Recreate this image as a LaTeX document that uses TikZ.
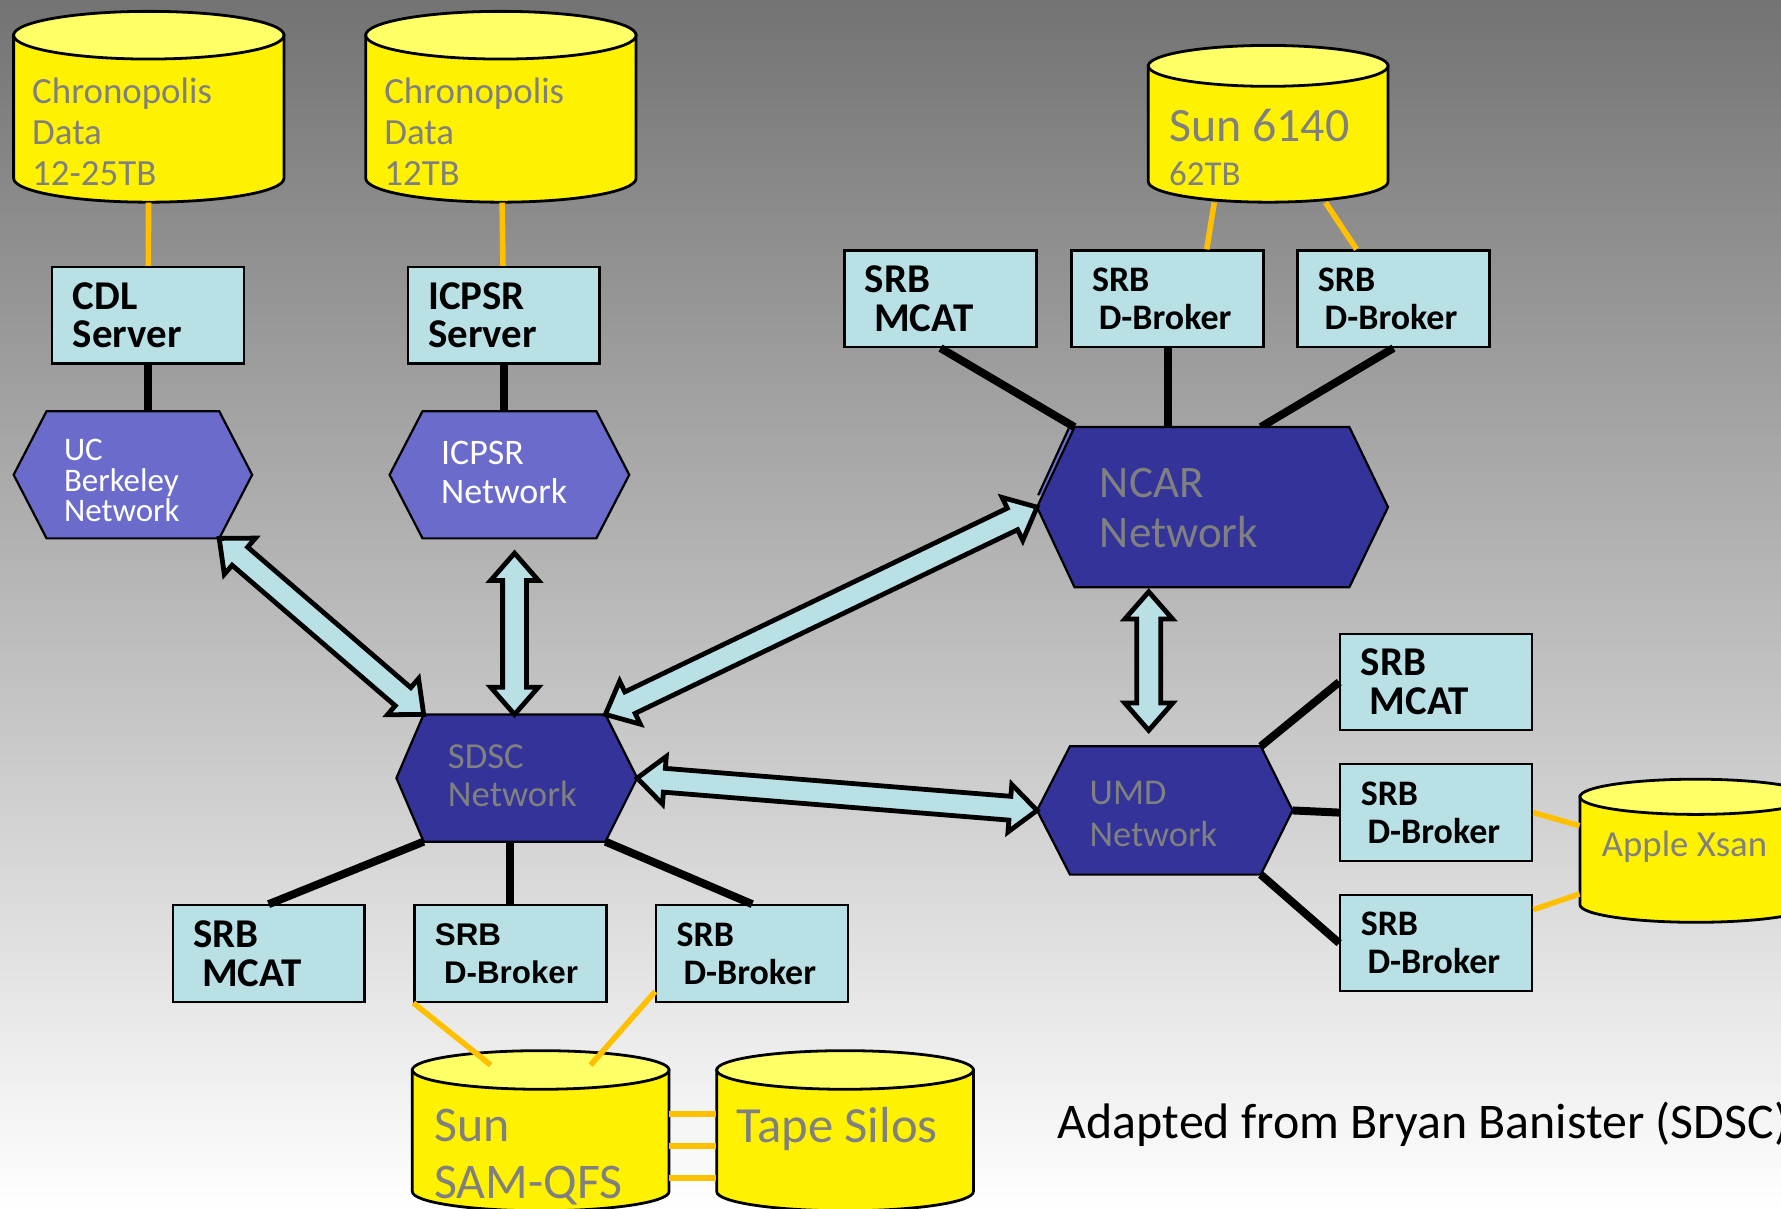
\documentclass[tikz,border=0pt]{standalone}
\usepackage{fontspec}
\setmainfont{Carlito}
\newfontfamily\arialfont{Liberation Sans}
\usetikzlibrary{positioning,calc}

\definecolor{boxblue}{RGB}{185,224,228}
\definecolor{netlight}{RGB}{107,107,204}
\definecolor{netdark}{RGB}{51,51,153}
\definecolor{feedorange}{RGB}{255,192,0}
\definecolor{disktop}{RGB}{255,255,102}
\definecolor{labelgray}{RGB}{128,128,128}
\definecolor{bgtop}{RGB}{115,115,115}
\definecolor{bgmid}{RGB}{200,200,200}

\tikzset{
  srvbox/.style={draw, line width=1.1pt, fill=boxblue, minimum width=3.38cm, minimum height=1.7cm,
    text width=2.66cm, inner xsep=0.36cm, align=left, font=\bfseries\fontsize{20.5}{19.5}\selectfont},
  brokerbox/.style={srvbox, font=\bfseries\fontsize{18}{19}\selectfont},
  diskline/.style={draw, line width=1.4pt},
  disktext/.style={anchor=west, align=left, text=labelgray, inner sep=0pt},
  netlo/.style={draw, line width=1.1pt, fill=netlight},
  nethi/.style={draw, line width=1.1pt, fill=netdark},
  nettext/.style={anchor=west, align=left, inner sep=0pt},
  link/.style={line width=4pt},
  feed/.style={feedorange, line width=2.8pt},
  pipe/.style={draw, fill=boxblue, line width=2.4pt, line join=miter},
}

% disk: name, centre x, centre y, half width, half height, end radius
\newcommand{\disk}[6]{%
  \node[inner sep=0pt, minimum width={2*#4*0.02cm}, minimum height={2*#5*0.02cm}] (#1) at (#2,#3) {};
  \draw[diskline, fill=yellow] ($(#1)+(-#4,-#5+#6)$) -- ($(#1)+(-#4,#5-#6)$)
    arc[start angle=180, end angle=360, x radius=#4*0.02cm, y radius=#6*0.02cm]
    -- ($(#1)+(#4,-#5+#6)$) -- cycle;
  \draw[diskline, fill=disktop] ($(#1)+(0,-#5+#6)$) ellipse[x radius=#4*0.02cm, y radius=#6*0.02cm];
}

% hexagon: name, style, x left point, x top left, x top right, x right point, y top, y bottom
\newcommand{\hexnet}[8]{%
  \coordinate (#1-w)  at (#3,{(#7+#8)/2});
  \coordinate (#1-nw) at (#4,#7);
  \coordinate (#1-n)  at ({(#4+#5)/2},#7);
  \coordinate (#1-ne) at (#5,#7);
  \coordinate (#1-e)  at (#6,{(#7+#8)/2});
  \coordinate (#1-se) at (#5,#8);
  \coordinate (#1-s)  at ({(#4+#5)/2},#8);
  \coordinate (#1-sw) at (#4,#8);
  \draw[#2] (#1-w) -- (#1-nw) -- (#1-ne) -- (#1-e) -- (#1-se) -- (#1-sw) -- cycle;
}

% block arrow with two heads
\def\tiplen{0.48cm}
\def\tipwid{0.42cm}
\def\shaftwid{0.21cm}
\newcommand{\dblarrow}[2]{%
  \draw[pipe] (#1)
    -- ($($(#1)!\tiplen!(#2)$)!\tipwid!90:(#2)$)
    -- ($($(#1)!\tiplen!(#2)$)!\shaftwid!90:(#2)$)
    -- ($($(#2)!\tiplen!(#1)$)!\shaftwid!-90:(#1)$)
    -- ($($(#2)!\tiplen!(#1)$)!\tipwid!-90:(#1)$)
    -- (#2)
    -- ($($(#2)!\tiplen!(#1)$)!\tipwid!90:(#1)$)
    -- ($($(#2)!\tiplen!(#1)$)!\shaftwid!90:(#1)$)
    -- ($($(#1)!\tiplen!(#2)$)!\shaftwid!-90:(#2)$)
    -- ($($(#1)!\tiplen!(#2)$)!\tipwid!-90:(#2)$)
    -- cycle;
}

\begin{document}
\begin{tikzpicture}[x=0.02cm, y=-0.02cm]
	\useasboundingbox (0,0) rectangle (1568,1064);
	\clip (0,0) rectangle (1568,1064);
	\fill[top color=bgtop, middle color=bgmid, bottom color=white] (0,0) rectangle (1568,1064);

	% storage
	\disk{chronoA}{131}{94}{119}{84}{21}
	\disk{chronoB}{441}{94}{119}{84}{21}
	\disk{sun6140}{1116.5}{109}{105.5}{69}{18}
	\disk{samqfs}{476}{995.5}{113}{70.5}{17}
	\disk{tape}{744}{995.5}{113}{70.5}{17}
	\disk{xsan}{1493}{749}{102}{63}{15.5}

	\node[disktext, font=\fontsize{18.5}{20.5}\selectfont] (chronoAtxt) at (28,116) {Chronopolis\\Data\\12-25TB};
	\node[disktext, font=\fontsize{18.5}{20.5}\selectfont] (chronoBtxt) at (338,116) {Chronopolis\\Data\\12TB};
	\node[disktext, font=\fontsize{24}{22}\selectfont] (suntxt) at (1029,130) {Sun 6140\\{\fontsize{17.5}{22}\selectfont 62TB}};
	\node[disktext, font=\fontsize{25}{28.5}\selectfont] (samtxt) at (382,1019) {Sun\\SAM-QFS};
	\node[disktext, font=\fontsize{25.4}{28}\selectfont] (tapetxt) at (648,994) {Tape Silos};
	\node[disktext, font=\fontsize{18.4}{20}\selectfont] (xsantxt) at (1410,745) {Apple Xsan};

	% servers
	\node[srvbox] (cdl) at (130.5,277.5) {CDL\\Server};
	\node[srvbox, right=2.84cm of cdl] (icpsr) {ICPSR\\Server};

	\node[srvbox] (nmcat) at (828,263) {SRB\\\hspace*{0.16cm}MCAT};
	\node[brokerbox, right=0.58cm of nmcat] (ndb1) {SRB\\\hspace*{0.12cm}D-Broker};
	\node[brokerbox, right=0.56cm of ndb1] (ndb2) {SRB\\\hspace*{0.12cm}D-Broker};

	\node[srvbox] (smcat) at (236.5,839.5) {SRB\\\hspace*{0.16cm}MCAT};
	\node[brokerbox, right=0.84cm of smcat, font=\arialfont\bfseries\fontsize{15.7}{19}\selectfont] (sdb1) {SRB\\\hspace*{0.16cm}D-Broker};
	\node[brokerbox, right=0.84cm of sdb1] (sdb2) {SRB\\\hspace*{0.12cm}D-Broker};

	\node[srvbox] (umcat) at (1264.5,600.5) {SRB\\\hspace*{0.16cm}MCAT};
	\node[brokerbox, below=0.56cm of umcat] (udb1) {SRB\\\hspace*{0.12cm}D-Broker};
	\node[brokerbox, below=0.56cm of udb1] (udb2) {SRB\\\hspace*{0.12cm}D-Broker};

	% disk feeds
	\draw[feed] (chronoA) -- (cdl);
	\draw[feed] (chronoB) -- (icpsr);
	\draw[feed] ([xshift=-0.95cm]sun6140.south) -- ([xshift=0.69cm]ndb1.north);
	\draw[feed] ([xshift=1.01cm]sun6140.south) -- ([xshift=-0.65cm]ndb2.north);
	\draw[feed] (sdb1.south west) -- ([shift={(-0.88cm,-0.26cm)}]samqfs.north);
	\draw[feed] ([yshift=0.2cm]sdb2.south west) -- ([shift={(0.88cm,-0.26cm)}]samqfs.north);
	\foreach \dy in {0.29cm,-0.27cm,-0.83cm}
		\draw[feed] ([yshift=\dy]samqfs.east) -- ([yshift=\dy]tape.west);
	\draw[feed] (udb1.east) -- ([yshift=0.44cm]xsan.west);
	\draw[feed] ([yshift=0.59cm]udb2.east) -- ([yshift=-0.76cm]xsan.west);

	% networks
	\hexnet{ucb}{netlo}{12}{41}{193}{222}{362}{474}
	\hexnet{icpsrnet}{netlo}{343}{372}{525}{554}{362}{474}
	\fill[netlight] (941,377) -- (946,376) -- (919,436) -- (914,436) -- cycle;
	\draw[line width=1.1pt] (941,377) -- (914,436);

	% links to the networks
	\draw[link] (cdl.south) -- (cdl.south |- ucb-n);
	\draw[link] (icpsr.south) -- (icpsr.south |- icpsrnet-n);
	\draw[link] (nmcat.south) -- (946,376);
	\draw[link] (ndb1.south) -- (ndb1.south |- 0,376);
	\draw[link] (ndb2.south) -- (1110,376);
	\draw[link] (smcat.north) -- (373,741);
	\draw[link] (sdb1.north) -- (sdb1.north |- 0,741);
	\draw[link] (sdb2.north) -- (533,741);
	\draw[link] (1110,657) -- (umcat.west);
	\draw[link] (1138,713.5) -- (udb1.west);
	\draw[link] (1110,770) -- (udb2.west);

	\hexnet{ncar}{nethi}{913}{946}{1188}{1222}{376}{517}
	\hexnet{sdsc}{nethi}{349}{373}{533}{561}{629}{741}
	\hexnet{umd}{nethi}{913}{942}{1110}{1138}{657}{770}

	\node[nettext, text=white, font=\fontsize{16.5}{15.4}\selectfont] (ucb) at (56,423) {UC\\Berkeley\\Network};
	\node[nettext, text=white, font=\fontsize{18}{19.3}\selectfont] (icpsrlbl) at (388,416) {ICPSR\\Network};
	\node[nettext, text=labelgray, font=\fontsize{22.6}{25}\selectfont] (ncar) at (968,447) {NCAR\\Network};
	\node[nettext, text=labelgray, font=\fontsize{18.4}{18.8}\selectfont] (sdsc) at (394,683) {SDSC\\Network};
	\node[nettext, text=labelgray, font=\fontsize{18.2}{21}\selectfont] (umd) at (959,717) {UMD\\Network};

	% traffic between the networks
	\coordinate (icpsrdown) at ($(sdsc-n |- icpsrnet-s)+(0,13)$);
	\coordinate (ncardown) at ($($(ncar-sw)!0.27!(ncar-se)$)+(0,4)$);
	\coordinate (umdup) at ($(ncardown |- umd-n)+(0,-14)$);
	\dblarrow{ucb-se}{sdsc-nw}
	\dblarrow{icpsrdown}{sdsc-n}
	\dblarrow{sdsc-ne}{ncar-w}
	\dblarrow{sdsc-e}{umd-w}
	\dblarrow{ncardown}{umdup}

	\node[anchor=west, inner sep=0pt, font=\fontsize{25}{26}\selectfont] (credit) at (931,990) {Adapted from Bryan Banister (SDSC)};
\end{tikzpicture}
\end{document}
